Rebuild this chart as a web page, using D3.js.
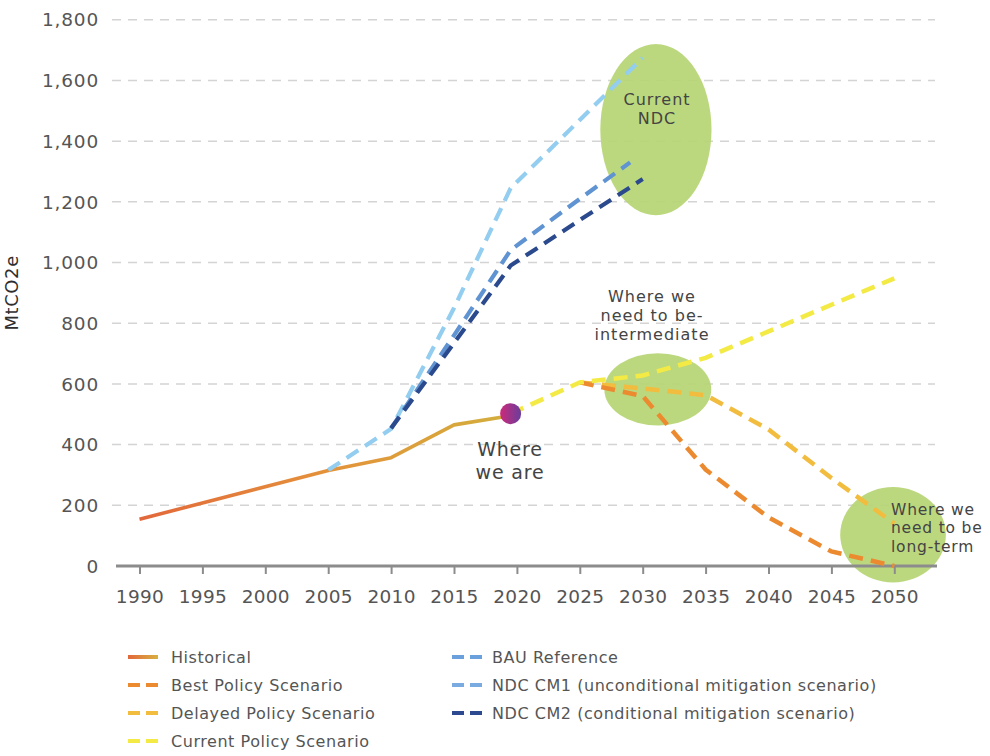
<!DOCTYPE html>
<html>
<head>
<meta charset="utf-8">
<script src="https://cdn.jsdelivr.net/npm/d3@7/dist/d3.min.js"></script>
<style>
  html, body { margin: 0; padding: 0; background: #fff; }
  svg { display: block; font-family: "DejaVu Sans", "Noto Sans", sans-serif; }
</style>
</head>
<body>
<svg id="chart" width="990" height="756"></svg>
<script>
// ---- data (MtCO2e) ----
const xTicks = [1990, 1995, 2000, 2005, 2010, 2015, 2020, 2025, 2030, 2035, 2040, 2045, 2050];
const yTicks = [0, 200, 400, 600, 800, 1000, 1200, 1400, 1600, 1800];

const historicalYears  = [1990, 2005, 2010, 2015, 2019];
const historicalValues = [154, 315, 357, 465, 492];

const bauYears  = [2005, 2010, 2015, 2019.5, 2025, 2030];
const bauValues = [316, 452, 850, 1245, 1470, 1675];

const cm1Years  = [2010, 2015, 2019.5, 2025, 2029];
const cm1Values = [454, 760, 1041, 1210, 1330];

const cm2Years  = [2010, 2015, 2019.5, 2025, 2030];
const cm2Values = [454, 735, 990, 1140, 1275];

const currentYears  = [2019.5, 2025, 2030, 2035, 2040, 2045, 2050];
const currentValues = [502, 605, 628, 686, 773, 861, 948];

const bestYears  = [2025, 2030, 2035, 2040, 2045, 2050];
const bestValues = [605, 560, 318, 160, 48, 0];

const delayedYears  = [2025, 2030, 2035, 2040, 2045, 2050];
const delayedValues = [605, 585, 563, 450, 290, 140];

const nowYear = 2019.5, nowValue = 502;

// highlighted target zones: centre (year, value) and radii (years, MtCO2e)
const zoneYears   = [2031.05, 2031.2, 2049.9];
const zoneValues  = [1438, 582, 103];
const zoneRYears  = [4.42, 4.25, 4.2];
const zoneRValues = [282, 119, 157];

const legendLeft  = ["Historical", "Best Policy Scenario", "Delayed Policy Scenario", "Current Policy Scenario"];
const legendRight = ["BAU Reference", "NDC CM1 (unconditional mitigation scenario)", "NDC CM2 (conditional mitigation scenario)"];

// ---- setup ----
const svg = d3.select("#chart");
const x = d3.scaleLinear().domain([1990, 2050]).range([139.5, 894.3]);
const y = d3.scaleLinear().domain([0, 1800]).range([566, 19.8]);

const defs = svg.append("defs");
const histGrad = defs.append("linearGradient").attr("id", "histGrad")
  .attr("gradientUnits", "userSpaceOnUse")
  .attr("x1", x(1990)).attr("x2", x(2019)).attr("y1", 0).attr("y2", 0);
histGrad.append("stop").attr("offset", "0%").attr("stop-color", "#e2683b");
histGrad.append("stop").attr("offset", "50%").attr("stop-color", "#e4913a");
histGrad.append("stop").attr("offset", "100%").attr("stop-color", "#d3ae3d");

const legGrad = defs.append("linearGradient").attr("id", "legGrad")
  .attr("gradientUnits", "userSpaceOnUse")
  .attr("x1", 128).attr("x2", 158).attr("y1", 0).attr("y2", 0);
legGrad.append("stop").attr("offset", "0%").attr("stop-color", "#e2683b");
legGrad.append("stop").attr("offset", "100%").attr("stop-color", "#d8b040");

const dotGrad = defs.append("linearGradient").attr("id", "dotGrad");
dotGrad.append("stop").attr("offset", "0%").attr("stop-color", "#cc2a7a");
dotGrad.append("stop").attr("offset", "100%").attr("stop-color", "#693e9c");

// ---- gridlines ----
svg.append("g").selectAll("line")
  .data(yTicks.filter(d => d > 0))
  .join("line")
  .attr("x1", 112).attr("x2", 935)
  .attr("y1", d => y(d)).attr("y2", d => y(d))
  .attr("stroke", "#d4d4d4").attr("stroke-width", 1.5)
  .attr("stroke-dasharray", "9 7");

// ---- target zones ----
svg.append("g").selectAll("ellipse")
  .data(zoneYears.map((d, i) => i))
  .join("ellipse")
  .attr("cx", i => x(zoneYears[i]))
  .attr("cy", i => y(zoneValues[i]))
  .attr("rx", i => x(zoneYears[i] + zoneRYears[i]) - x(zoneYears[i]))
  .attr("ry", i => y(0) - y(zoneRValues[i]))
  .attr("fill", "#b6d573").attr("opacity", 0.92);

// ---- y axis labels ----
svg.append("g").selectAll("text")
  .data(yTicks)
  .join("text")
  .attr("x", 99).attr("y", d => y(d))
  .attr("dy", "0.36em")
  .attr("text-anchor", "end")
  .attr("font-size", 18.5).attr("letter-spacing", 0.8).attr("fill", "#555")
  .text(d => d3.format(",")(d));

svg.append("text")
  .attr("transform", `translate(18,${y(900)}) rotate(-90)`)
  .attr("text-anchor", "middle")
  .attr("font-size", 18).attr("letter-spacing", 0.6).attr("fill", "#2e2e2e")
  .text("MtCO2e");

// ---- x axis ----
const xAxis = svg.append("g")
  .attr("transform", `translate(0,${y(0)})`)
  .call(d3.axisBottom(x).tickValues(xTicks).tickFormat(d3.format("d")).tickSize(8).tickPadding(16));
xAxis.select(".domain").remove();
xAxis.selectAll(".tick line").attr("stroke", "#8c8c8c").attr("stroke-width", 2);
xAxis.selectAll(".tick text").attr("font-size", 18.5).attr("letter-spacing", 0.3).attr("fill", "#555")
  .attr("font-family", "DejaVu Sans");
svg.append("line")
  .attr("x1", 116).attr("x2", 937)
  .attr("y1", y(0)).attr("y2", y(0))
  .attr("stroke", "#8c8c8c").attr("stroke-width", 3);

// ---- lines ----
const line = d3.line().x(d => x(d[0])).y(d => y(d[1]));
const pairs = (ys, vs) => ys.map((d, i) => [d, vs[i]]);

const dashed = [
  { ys: bauYears, vs: bauValues, color: "#93cdef", w: 4.2 },
  { ys: cm1Years, vs: cm1Values, color: "#5f93d2", w: 4.2 },
  { ys: cm2Years, vs: cm2Values, color: "#2b4a8e", w: 4.2 },
  { ys: delayedYears, vs: delayedValues, color: "#f2bc3e", w: 4.5 },
  { ys: bestYears, vs: bestValues, color: "#ec8a30", w: 4.5 },
  { ys: currentYears, vs: currentValues, color: "#f3ea45", w: 4.5 }
];

svg.append("path")
  .attr("d", line(pairs(historicalYears, historicalValues)))
  .attr("fill", "none").attr("stroke", "url(#histGrad)")
  .attr("stroke-width", 3.6).attr("stroke-linejoin", "round");

svg.append("g").selectAll("path")
  .data(dashed)
  .join("path")
  .attr("d", s => line(pairs(s.ys, s.vs)))
  .attr("fill", "none")
  .attr("stroke", s => s.color)
  .attr("stroke-width", s => s.w)
  .attr("stroke-dasharray", "14 8");

// "where we are" marker
svg.append("circle")
  .attr("cx", x(nowYear)).attr("cy", y(nowValue)).attr("r", 10.5)
  .attr("fill", "url(#dotGrad)");

// ---- annotations ----
const note = (lines, cx, cy, size, gap, spacing, anchor) => {
  const t = svg.append("text")
    .attr("font-size", size).attr("letter-spacing", spacing).attr("fill", "#444")
    .attr("text-anchor", anchor || "middle");
  lines.forEach((s, i) => {
    t.append("tspan").attr("x", cx).attr("y", cy + i * gap).attr("dy", "0.36em").text(s);
  });
};
note(["Current", "NDC"], 657, 99, 16, 19, 1.0);
note(["Where we", "need to be-", "intermediate"], 652, 296, 16, 19, 1.0);
note(["Where", "we are"], 510, 449, 19, 23, 0.8);
note(["Where we", "need to be", "long-term"], 891, 509, 15.5, 18.5, 0.8, "start");

// ---- legend ----
const leftColors = ["url(#legGrad)", "#ec8a30", "#f2bc3e", "#f3ea45"];
const rightColors = ["#6aa0dc", "#79aae0", "#2d4a90"];
const legend = svg.append("g");
legendLeft.forEach((name, i) => {
  const yy = 657 + i * 28;
  legend.append("line")
    .attr("x1", 128).attr("x2", 158).attr("y1", yy).attr("y2", yy)
    .attr("stroke", leftColors[i]).attr("stroke-width", 4)
    .attr("stroke-dasharray", i === 0 ? null : "12 6");
  legend.append("text").attr("x", 171).attr("y", yy).attr("dy", "0.36em")
    .attr("font-size", 16).attr("letter-spacing", 0.55).attr("fill", "#555").text(name);
});
legendRight.forEach((name, i) => {
  const yy = 657 + i * 28;
  legend.append("line")
    .attr("x1", 452).attr("x2", 482).attr("y1", yy).attr("y2", yy)
    .attr("stroke", rightColors[i]).attr("stroke-width", 4)
    .attr("stroke-dasharray", "12 6");
  legend.append("text").attr("x", 492).attr("y", yy).attr("dy", "0.36em")
    .attr("font-size", 16).attr("letter-spacing", 0.55).attr("fill", "#555").text(name);
});
</script>
</body>
</html>
